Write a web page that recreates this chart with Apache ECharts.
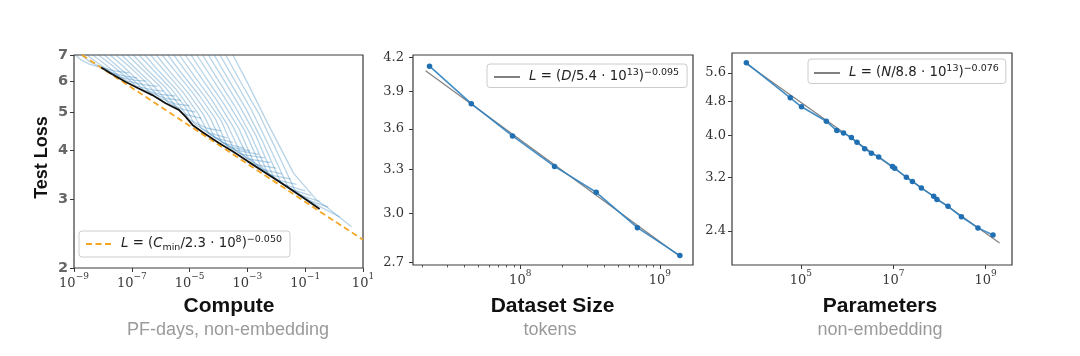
<!DOCTYPE html>
<html><head><meta charset="utf-8">
<script src="https://cdn.jsdelivr.net/npm/echarts@6/dist/echarts.min.js"></script>
<style>html,body{margin:0;padding:0;background:#fff}#c{width:1080px;height:356px}</style>
</head><body><div id="c"></div>
<script>
// ---------- Panel 1: Compute (PF-days, log10) vs test loss ----------
const frontierComputeLog10 = [-8.06,-7.69,-7.22,-6.76,-6.29,-5.83,-5.37,-5.14,-4.90,-4.56,-4.0,-3.5,-3.0,-2.5,-2.0,-1.5,-1.0,-0.5];
const frontierLoss        = [6.50, 6.26, 5.98, 5.75, 5.53, 5.27, 5.07, 4.87, 4.64, 4.45, 4.18,3.97,3.75,3.55,3.36,3.18,3.00,2.83];
const computeFit = [[1.9e-9, 7.0], [10, 2.36]];
// learning curves: [log10 compute, loss]
const computeRunsLog10 = [
 [[-8.95,7.0],[-8.75,6.8],[-8.45,6.62],[-8.1,6.52],[-7.6,6.38],[-7.1,6.3]],
 [[-8.75,7.0],[-8.45,6.72],[-8.05,6.52],[-7.7,6.30],[-7.2,6.17],[-6.8,6.12]],
 [[-8.55,7.0],[-8.2,6.7],[-7.75,6.35],[-7.4,6.14],[-6.9,6.04],[-6.5,6.0]],
 [[-8.35,7.0],[-7.95,6.65],[-7.45,6.2],[-7.15,6.0],[-6.6,5.88],[-6.1,5.82]],
 [[-8.15,7.0],[-7.7,6.6],[-7.2,6.15],[-6.85,5.83],[-6.3,5.7],[-5.9,5.66]],
 [[-7.95,7.0],[-7.5,6.55],[-6.95,6.05],[-6.6,5.7],[-6.0,5.55],[-5.5,5.5]],
 [[-7.75,7.0],[-7.3,6.55],[-6.75,6.0],[-6.35,5.6],[-5.8,5.42],[-5.3,5.36]],
 [[-7.55,7.0],[-7.05,6.5],[-6.5,5.95],[-6.05,5.45],[-5.5,5.25],[-5.0,5.2]],
 [[-7.35,7.0],[-6.85,6.45],[-6.3,5.9],[-5.75,5.3],[-5.3,5.1],[-4.8,5.0]],
 [[-7.15,7.0],[-6.65,6.45],[-6.05,5.85],[-5.5,5.2],[-5.2,4.95],[-4.6,4.82]],
 [[-6.95,7.0],[-6.45,6.4],[-5.85,5.8],[-5.3,5.15],[-5.0,4.78],[-4.4,4.55],[-3.9,4.48]],
 [[-6.75,7.0],[-6.25,6.4],[-5.65,5.75],[-5.1,5.1],[-4.85,4.68],[-4.3,4.42],[-3.7,4.3]],
 [[-6.55,7.0],[-6.05,6.35],[-5.45,5.7],[-4.9,5.0],[-4.6,4.55],[-4.1,4.3],[-3.5,4.18]],
 [[-6.35,7.0],[-5.85,6.35],[-5.25,5.65],[-4.7,4.95],[-4.35,4.42],[-3.8,4.16],[-3.1,4.05]],
 [[-6.15,7.0],[-5.65,6.3],[-5.05,5.6],[-4.5,4.9],[-4.15,4.33],[-3.6,4.08],[-2.9,3.98]],
 [[-5.95,7.0],[-5.45,6.3],[-4.85,5.55],[-4.3,4.85],[-3.9,4.2],[-3.4,4.0],[-2.6,3.9]],
 [[-5.75,7.0],[-5.25,6.25],[-4.65,5.5],[-4.1,4.8],[-3.7,4.1],[-3.2,3.9],[-2.4,3.82]],
 [[-5.55,7.0],[-5.05,6.25],[-4.45,5.45],[-3.9,4.75],[-3.5,4.05],[-3.0,3.8],[-2.2,3.72]],
 [[-5.35,7.0],[-4.85,6.2],[-4.25,5.4],[-3.7,4.65],[-3.25,3.95],[-2.75,3.68],[-2.0,3.6]],
 [[-5.15,7.0],[-4.65,6.2],[-4.05,5.35],[-3.5,4.6],[-3.0,3.85],[-2.5,3.57],[-1.8,3.48]],
 [[-4.95,7.0],[-4.45,6.15],[-3.85,5.3],[-3.3,4.55],[-2.8,3.75],[-2.25,3.46],[-1.5,3.38]],
 [[-4.75,7.0],[-4.25,6.15],[-3.65,5.25],[-3.1,4.5],[-2.55,3.65],[-2.0,3.36],[-1.3,3.27]],
 [[-4.55,7.0],[-4.05,6.1],[-3.45,5.2],[-2.9,4.4],[-2.3,3.5],[-1.75,3.27],[-1.0,3.15]],
 [[-4.35,7.0],[-3.85,6.1],[-3.25,5.15],[-2.7,4.35],[-2.1,3.42],[-1.5,3.18],[-0.8,3.06]],
 [[-4.15,7.0],[-3.65,6.05],[-3.05,5.1],[-2.5,4.25],[-1.85,3.31],[-1.25,3.08],[-0.5,2.96]],
 [[-3.95,7.0],[-3.45,6.05],[-2.85,5.05],[-2.25,4.1],[-1.6,3.23],[-1.0,3.0],[-0.2,2.86]],
 [[-3.75,7.0],[-3.25,6.0],[-2.6,4.95],[-2.0,4.0],[-1.35,3.15],[-0.7,2.92],[0.2,2.7]],
 [[-3.5,7.0],[-3.0,5.95],[-2.3,4.69],[-1.4,3.49],[-0.6,2.98],[-0.25,2.86],[0.6,2.55]]
];
const computeTicks = [1e-9,1e-7,1e-5,1e-3,1e-1,1e1];
const computeLossTicks = [2,3,4,5,6,7];

// ---------- Panel 2: Dataset size ----------
const datasetTokens = [2.24e7, 4.46e7, 8.8e7, 1.76e8, 3.5e8, 6.9e8, 1.39e9];
const datasetLoss   = [4.12, 3.80, 3.545, 3.32, 3.14, 2.91, 2.74];
const datasetFit = [[2.1e7, 4.08], [1.42e9, 2.73]];
const datasetTicks = [1e8, 1e9];
const datasetMinorTicks = [2e7,3e7,4e7,5e7,6e7,7e7,8e7,9e7,2e8,3e8,4e8,5e8,6e8,7e8,8e8,9e8];
const datasetLossTicks = [2.7,3.0,3.3,3.6,3.9,4.2];

// ---------- Panel 3: Parameters ----------
const paramCount = [6.6e3,5.9e4,1.03e5,3.56e5,6.0e5,8.4e5,1.24e6,1.64e6,2.4e6,3.36e6,4.83e6,9.6e6,1.07e7,1.92e7,2.59e7,4.06e7,7.5e7,8.8e7,1.53e8,2.98e8,6.8e8,1.44e9];
const paramLoss  = [5.91,4.90,4.67,4.32,4.11,4.06,3.96,3.86,3.73,3.64,3.57,3.39,3.36,3.20,3.13,3.02,2.89,2.84,2.74,2.59,2.44,2.35];
const paramFit = [[6.6e3, 5.88], [2.0e9, 2.25]];
const paramTicks = [1e5, 1e7, 1e9];
const paramLossTicks = [2.4,3.2,4.0,4.8,5.6];

// ---------- styling helpers ----------
const SERIF = '"DejaVu Serif", "Liberation Serif", serif';
const SANS = '"Liberation Sans", Arial, sans-serif';
const MATH = '"DejaVu Sans", sans-serif';
const SPINE = '#3a3a3a';
function pow10Label(v){
  const e = Math.round(Math.log10(v));
  return '{b|10}{s|' + (e < 0 ? '\u2212' + (-e) : e) + '}';
}
const powRich = {
  b:{fontFamily:SERIF,fontSize:13,lineHeight:18,verticalAlign:'bottom',color:'#3a3a3a'},
  s:{fontFamily:SERIF,fontSize:9,lineHeight:8,verticalAlign:'top',color:'#3a3a3a'}
};
function xAxisDef(grid,min,max,ticks){
  return {type:'log',logBase:10,gridIndex:grid,min:min,max:max,
    axisLine:{show:false},splitLine:{show:false},minorTick:{show:false},
    axisTick:{show:true,length:4,inside:false,customValues:ticks,lineStyle:{color:SPINE,width:1}},
    axisLabel:{show:true,margin:4,customValues:ticks,formatter:pow10Label,rich:powRich}};
}
function yAxisDef(grid,min,max,ticks,fmt,labelStyle,margin){
  return {type:'log',logBase:10,gridIndex:grid,min:min,max:max,
    axisLine:{show:false},splitLine:{show:false},minorTick:{show:false},
    axisTick:{show:true,length:4,inside:false,customValues:ticks,lineStyle:{color:SPINE,width:1}},
    axisLabel:Object.assign({show:true,margin:margin,customValues:ticks,formatter:fmt},labelStyle)};
}
const gridBase = {show:true,borderColor:SPINE,borderWidth:1.2,backgroundColor:'transparent',outerBoundsMode:'none'};

const series = [];
computeRunsLog10.forEach((run,i)=>{
  series.push({type:'line',name:'run'+i,xAxisIndex:0,yAxisIndex:0,silent:true,symbol:'none',
    data:run.map(p=>[Math.pow(10,p[0]),p[1]]),
    lineStyle:{color:'#1f77b4',width:1.3,opacity:0.32},z:1});
});
series.push({type:'line',name:'f1',xAxisIndex:0,yAxisIndex:0,symbol:'none',data:computeFit,
  lineStyle:{color:'#f5a623',width:1.8,type:[6,3.5]},itemStyle:{color:'#f5a623'},z:3});
series.push({type:'line',name:'frontier',xAxisIndex:0,yAxisIndex:0,symbol:'none',
  data:frontierComputeLog10.map((e,i)=>[Math.pow(10,e),frontierLoss[i]]),
  lineStyle:{color:'#111',width:1.8},z:4});

series.push({type:'line',name:'f2',xAxisIndex:1,yAxisIndex:1,symbol:'none',data:datasetFit,
  lineStyle:{color:'#808080',width:1.2},itemStyle:{color:'#808080'},z:2});
series.push({type:'line',name:'data',xAxisIndex:1,yAxisIndex:1,symbol:'circle',symbolSize:5.5,
  data:datasetTokens.map((d,i)=>[d,datasetLoss[i]]),
  lineStyle:{color:'#2f82c0',width:1.6,opacity:0.9},itemStyle:{color:'#1f6fb2'},z:3});

series.push({type:'line',name:'f3',xAxisIndex:2,yAxisIndex:2,symbol:'none',data:paramFit,
  lineStyle:{color:'#808080',width:1.2},itemStyle:{color:'#808080'},z:2});
series.push({type:'line',name:'params',xAxisIndex:2,yAxisIndex:2,symbol:'circle',symbolSize:5.5,
  data:paramCount.map((n,i)=>[n,paramLoss[i]]),
  lineStyle:{color:'#2f82c0',width:1.6,opacity:0.9},itemStyle:{color:'#1f6fb2'},z:3});

const legendLabels = {
  f1:'{g| }{i|L}{n| = (}{i|C}{sub|min}{n|/2.3 \u00b7 10}{sup|8}{n|)}{sup|\u22120.050}',
  f2:'{g| }{i|L}{n| = (}{i|D}{n|/5.4 \u00b7 10}{sup|13}{n|)}{sup|\u22120.095}',
  f3:'{g| }{i|L}{n| = (}{i|N}{n|/8.8 \u00b7 10}{sup|13}{n|)}{sup|\u22120.076}'
};
const legRich = {
  g:{width:4,fontSize:10,lineHeight:18},
  n:{fontFamily:MATH,fontSize:13.3,lineHeight:18,verticalAlign:'middle',color:'#222'},
  i:{fontFamily:MATH,fontStyle:'italic',fontSize:13.3,lineHeight:18,verticalAlign:'middle',color:'#222'},
  sup:{fontFamily:MATH,fontSize:9.5,lineHeight:8,verticalAlign:'top',color:'#222'},
  sub:{fontFamily:MATH,fontSize:9.5,lineHeight:7,verticalAlign:'bottom',color:'#222'}
};
function legendDef(name,left,top,pad){
  return {data:[name],left:left,top:top,orient:'horizontal',itemWidth:26,itemHeight:12,
    padding:pad,borderColor:'#cccccc',borderWidth:1,borderRadius:3,
    backgroundColor:'rgba(255,255,255,0.85)',selectedMode:false,
    itemStyle:{opacity:0},
    formatter:n=>legendLabels[n],textStyle:{rich:legRich}};
}

const option = {
  animation:false,
  backgroundColor:'#fff',
  grid:[
    Object.assign({left:74,top:55,width:289,height:213},gridBase),
    Object.assign({left:413,top:55,width:280,height:210},gridBase),
    Object.assign({left:732,top:53,width:280,height:212},gridBase)
  ],
  xAxis:[
    xAxisDef(0,1e-9,10,computeTicks),
    xAxisDef(1,1.706e7,1.726e9,datasetTicks),
    xAxisDef(2,3.23e3,3.71e9,paramTicks),
    {type:'log',gridIndex:1,min:1.706e7,max:1.726e9,position:'bottom',axisLine:{show:false},
     splitLine:{show:false},axisLabel:{show:false},
     axisTick:{show:true,length:2.5,customValues:datasetMinorTicks,lineStyle:{color:SPINE,width:0.8}}}
  ],
  yAxis:[
    yAxisDef(0,2,7,computeLossTicks,v=>String(Math.round(v)),
      {fontFamily:'"DejaVu Sans", sans-serif',fontWeight:'bold',fontSize:14.5,color:'#666'},6),
    yAxisDef(1,2.685,4.22,datasetLossTicks,v=>v.toFixed(1),
      {fontFamily:SERIF,fontSize:13,color:'#333'},9),
    yAxisDef(2,2.0,6.23,paramLossTicks,v=>v.toFixed(1),
      {fontFamily:SERIF,fontSize:13,color:'#333'},6)
  ],
  legend:[legendDef('f1',79,231,[4,8,4,6]),legendDef('f2',487,64,[4,8,4,6]),legendDef('f3',808,59,[5,7,4,5])],
  graphic:[
    {type:'text',x:41.7,y:157.5,rotation:Math.PI/2,style:{text:'Test Loss',font:'bold 18px '+SANS,fill:'#111',textAlign:'center',textVerticalAlign:'middle'}},
    {type:'text',x:229,y:306.7,style:{text:'Compute',font:'bold 21px '+SANS,fill:'#111',textAlign:'center',textVerticalAlign:'middle'}},
    {type:'text',x:228,y:330,style:{text:'PF-days, non-embedding',font:'18px '+SANS,fill:'#9a9a9a',textAlign:'center',textVerticalAlign:'middle'}},
    {type:'text',x:552.5,y:306.7,style:{text:'Dataset Size',font:'bold 21px '+SANS,fill:'#111',textAlign:'center',textVerticalAlign:'middle'}},
    {type:'text',x:550,y:330,style:{text:'tokens',font:'18px '+SANS,fill:'#9a9a9a',textAlign:'center',textVerticalAlign:'middle'}},
    {type:'text',x:880,y:306.7,style:{text:'Parameters',font:'bold 21px '+SANS,fill:'#111',textAlign:'center',textVerticalAlign:'middle'}},
    {type:'text',x:880,y:330,style:{text:'non-embedding',font:'18px '+SANS,fill:'#9a9a9a',textAlign:'center',textVerticalAlign:'middle'}}
  ],
  series:series
};
const chart = echarts.init(document.getElementById('c'));
chart.setOption(option);
</script>
</body></html>
